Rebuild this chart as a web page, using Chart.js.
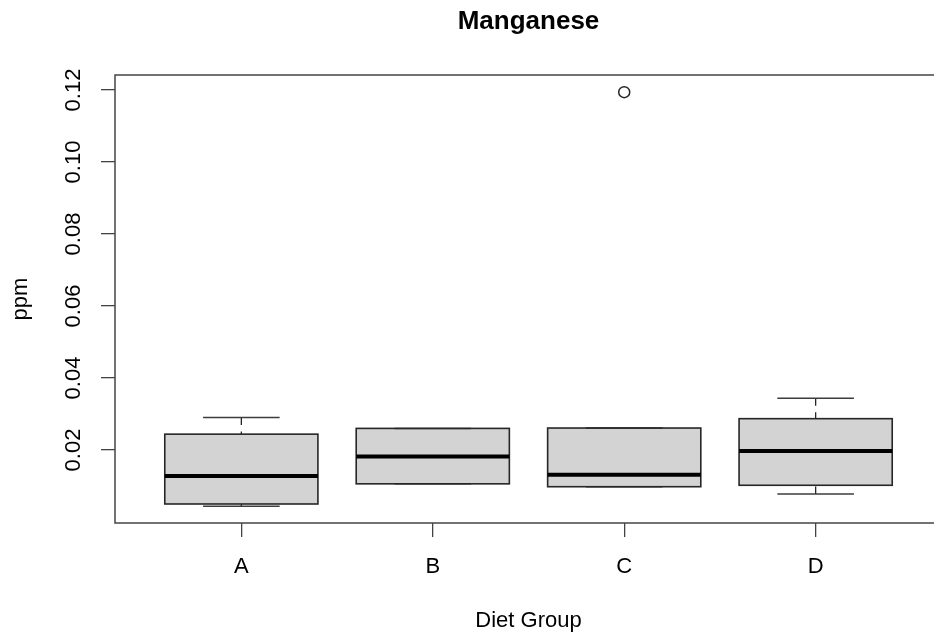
<!DOCTYPE html>
<html>
<head>
<meta charset="utf-8">
<title>Manganese</title>
<script src="https://cdn.jsdelivr.net/npm/chart.js@4.4.1/dist/chart.umd.min.js"></script>
<style>
  html, body { margin: 0; padding: 0; overflow: hidden; background: #fff; }
  canvas { display: block; }
</style>
</head>
<body>
<canvas id="chart" width="960" height="637" style="width:960px;height:637px"></canvas>
<script>
// Diet groups and their five-number summaries (ppm)
const categories  = ['A', 'B', 'C', 'D'];
const whiskerLow  = [0.0044, 0.0106, 0.0098, 0.0078];
const q1          = [0.0050, 0.0106, 0.0098, 0.0102];
const median      = [0.0128, 0.0182, 0.0131, 0.0197];
const q3          = [0.0244, 0.0260, 0.0261, 0.0287];
const whiskerHigh = [0.0290, 0.0260, 0.0261, 0.0344];
// Points beyond the whiskers
const outlierGroups = ['C'];
const outlierValues = [0.1194];
// Y axis tick values
const yTicks = [0.02, 0.04, 0.06, 0.08, 0.10, 0.12];

const FONT = 'Liberation Sans, Arial, Helvetica, sans-serif';
const BOX_HALF = 0.4;   // half box width, in category units
const CAP_HALF = 0.2;   // half staple width
const INK = '#262626';

// Boxes, whiskers, staples and medians, positioned with the chart's scales
const boxPlotPlugin = {
  id: 'boxPlot',
  beforeDatasetsDraw(chart) {
    const { ctx, scales: { x, y }, chartArea } = chart;
    ctx.save();
    // plot frame
    ctx.strokeStyle = '#444';
    ctx.lineWidth = 1.5;
    ctx.strokeRect(chartArea.left, chartArea.top, chartArea.right - chartArea.left, chartArea.bottom - chartArea.top);

    const seg = (x1, y1, x2, y2) => { ctx.beginPath(); ctx.moveTo(x1, y1); ctx.lineTo(x2, y2); ctx.stroke(); };

    categories.forEach((c, i) => {
      const pos = i + 1;
      const xc = x.getPixelForValue(pos);
      const xl = x.getPixelForValue(pos - BOX_HALF);
      const xr = x.getPixelForValue(pos + BOX_HALF);
      const cl = x.getPixelForValue(pos - CAP_HALF);
      const cr = x.getPixelForValue(pos + CAP_HALF);
      const yLo = y.getPixelForValue(whiskerLow[i]);
      const yQ1 = y.getPixelForValue(q1[i]);
      const yMed = y.getPixelForValue(median[i]);
      const yQ3 = y.getPixelForValue(q3[i]);
      const yHi = y.getPixelForValue(whiskerHigh[i]);

      // box
      ctx.fillStyle = '#d3d3d3';
      ctx.fillRect(xl, yQ3, xr - xl, yQ1 - yQ3);

      // dashed whiskers, drawn from the whisker end toward the hinge
      ctx.strokeStyle = INK;
      ctx.lineWidth = 1.3;
      ctx.setLineDash([7.5, 6.5]);
      if (yHi < yQ3) seg(xc, yHi, xc, yQ3);
      if (yLo > yQ1) seg(xc, yLo, xc, yQ1);
      ctx.setLineDash([]);

      // staples
      ctx.strokeStyle = '#3c3c3c';
      ctx.lineWidth = 1.5;
      seg(cl, yHi, cr, yHi);
      seg(cl, yLo, cr, yLo);

      // box outline
      ctx.strokeStyle = INK;
      ctx.lineWidth = 1.6;
      ctx.strokeRect(xl, yQ3, xr - xl, yQ1 - yQ3);

      // median
      ctx.strokeStyle = '#000';
      ctx.lineWidth = 4;
      seg(xl, yMed, xr, yMed);
    });
    ctx.restore();
  }
};

const outlierPoints = outlierGroups.map((g, i) => ({ x: categories.indexOf(g) + 1, y: outlierValues[i] }));

new Chart(document.getElementById('chart'), {
  type: 'scatter',
  data: {
    datasets: [{
      label: 'Outliers',
      data: outlierPoints,
      pointRadius: 5.5,
      pointBorderWidth: 1.5,
      borderColor: INK,
      backgroundColor: 'rgba(0,0,0,0)',
      pointHoverRadius: 5.5
    }]
  },
  options: {
    responsive: false,
    animation: false,
    devicePixelRatio: 1,
    layout: { padding: { left: 0, top: 0, right: 18, bottom: 0 } },
    plugins: {
      legend: { display: false },
      tooltip: { enabled: false },
      title: {
        display: true,
        fullSize: false,
        text: 'Manganese',
        color: '#000',
        font: { family: FONT, size: 26, weight: 'bold', lineHeight: 1.2 },
        padding: { top: 6.1, bottom: 37.7 }
      }
    },
    scales: {
      x: {
        type: 'linear',
        min: 0.34,
        max: 4.66,
        afterBuildTicks: s => { s.ticks = categories.map((c, i) => ({ value: i + 1 })); },
        afterFit: s => { s.height = 114; },
        ticks: {
          autoSkip: false,
          maxRotation: 0,
          padding: 16.3,
          color: '#000',
          font: { family: FONT, size: 22, lineHeight: 1.2 },
          callback: v => categories[Math.round(v) - 1]
        },
        grid: { drawOnChartArea: false, drawTicks: true, tickLength: 14, color: '#444', lineWidth: 1.3 },
        border: { display: false },
        title: {
          display: true,
          text: 'Diet Group',
          color: '#000',
          font: { family: FONT, size: 22, lineHeight: 1.2 },
          padding: { top: 0, bottom: 3.1 }
        }
      },
      y: {
        type: 'linear',
        min: -0.00028,
        max: 0.12417,
        afterBuildTicks: s => { s.ticks = yTicks.map(v => ({ value: v })); },
        afterFit: s => { s.width = 115; },
        ticks: {
          minRotation: 90,
          maxRotation: 90,
          crossAlign: 'center',
          padding: 5.2,
          color: '#000',
          font: { family: FONT, size: 22, lineHeight: 1.2 },
          callback: v => v.toFixed(2)
        },
        grid: { drawOnChartArea: false, drawTicks: true, tickLength: 14, color: '#444', lineWidth: 1.3 },
        border: { display: false },
        title: {
          display: true,
          text: 'ppm',
          color: '#000',
          font: { family: FONT, size: 22, lineHeight: 1.2 },
          padding: { top: 7.6, bottom: 0 }
        }
      }
    }
  },
  plugins: [boxPlotPlugin]
});
</script>
</body>
</html>
